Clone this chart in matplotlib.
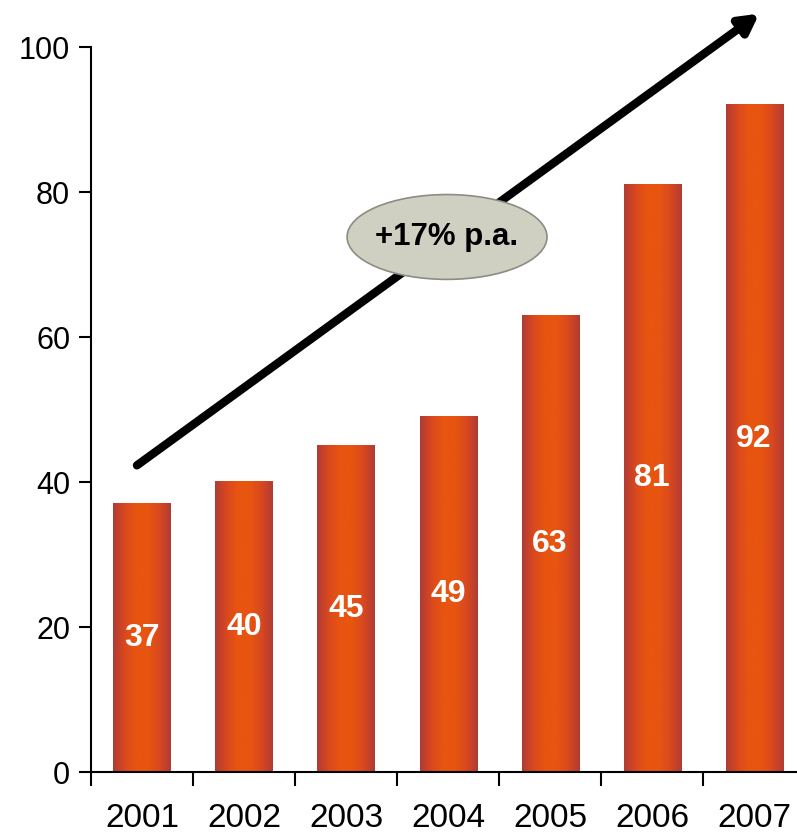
import numpy as np
import matplotlib.pyplot as plt
from matplotlib.patches import Ellipse
from matplotlib.colors import LinearSegmentedColormap
from matplotlib import font_manager

anni = ['2001', '2002', '2003', '2004', '2005', '2006', '2007']
valori = [37, 40, 45, 49, 63, 81, 92]
crescita = '+17% p.a.'

plt.rcParams['font.family'] = ['Liberation Sans', 'DejaVu Sans']

# font stretto per le etichette degli anni, se disponibile
nomi = {f.name for f in font_manager.fontManager.ttflist}
if 'Liberation Sans Narrow' in nomi:
    font_anni, size_anni = 'Liberation Sans Narrow', 26
elif 'DejaVu Sans Condensed' in nomi:
    font_anni, size_anni = 'DejaVu Sans Condensed', 23
else:
    font_anni, size_anni = 'Liberation Sans', 24

fig = plt.figure(figsize=(7.97, 8.35), dpi=100)
ax = fig.add_axes([0.1142, 0.0754, 0.896, 0.8683])

# sfumatura orizzontale delle barre: rosso scuro ai bordi, arancio al centro
cmap = LinearSegmentedColormap.from_list(
    'barra', ['#b03c36', '#d9481e', '#e85510', '#e85510', '#d9481e', '#b03c36'])
grad = np.linspace(0, 1, 256).reshape(1, -1)

larghezza = 0.56
x = np.arange(len(anni))
for xi, v in zip(x, valori):
    ax.imshow(grad, cmap=cmap, aspect='auto', interpolation='bicubic',
              extent=[xi - larghezza / 2, xi + larghezza / 2, 0, v], zorder=2)
    ax.text(xi, v / 2, str(v), ha='center', va='center', color='white',
            fontsize=23, fontweight='bold', zorder=3)

ax.set_xlim(-0.5, len(anni) - 0.5)
ax.set_ylim(0, 100)

# freccia di crescita
ax.annotate('', xy=(6.05, 104.6), xytext=(-0.05, 42.3),
            arrowprops=dict(arrowstyle='-|>,head_length=1.1,head_width=0.6',
                            color='black', lw=6, shrinkA=0, shrinkB=0),
            annotation_clip=False, zorder=4)

ell = Ellipse((2.99, 73.8), 1.96, 11.7, facecolor='#d0d0c2',
              edgecolor='#8c8c84', lw=1.2, zorder=5)
ax.add_patch(ell)
ax.text(2.99, 73.8, crescita, ha='center', va='center', fontsize=22.5,
        fontweight='bold', color='black', zorder=6)

for lato in ['top', 'right']:
    ax.spines[lato].set_visible(False)
ax.spines['left'].set_linewidth(1.5)
ax.spines['bottom'].set_linewidth(1.5)

ax.set_yticks(np.arange(0, 101, 20))
ax.tick_params(axis='y', direction='out', length=9, width=1.5, labelsize=22, pad=6)

ax.set_xticks(np.arange(-0.5, len(anni), 1))
ax.set_xticklabels([])
ax.tick_params(axis='x', which='major', direction='out', length=10, width=1.5)
ax.set_xticks(x, minor=True)
ax.set_xticklabels(anni, minor=True, family=font_anni, fontsize=size_anni)
ax.tick_params(axis='x', which='minor', length=0, pad=22)

fig.savefig('out.png', dpi=100)
